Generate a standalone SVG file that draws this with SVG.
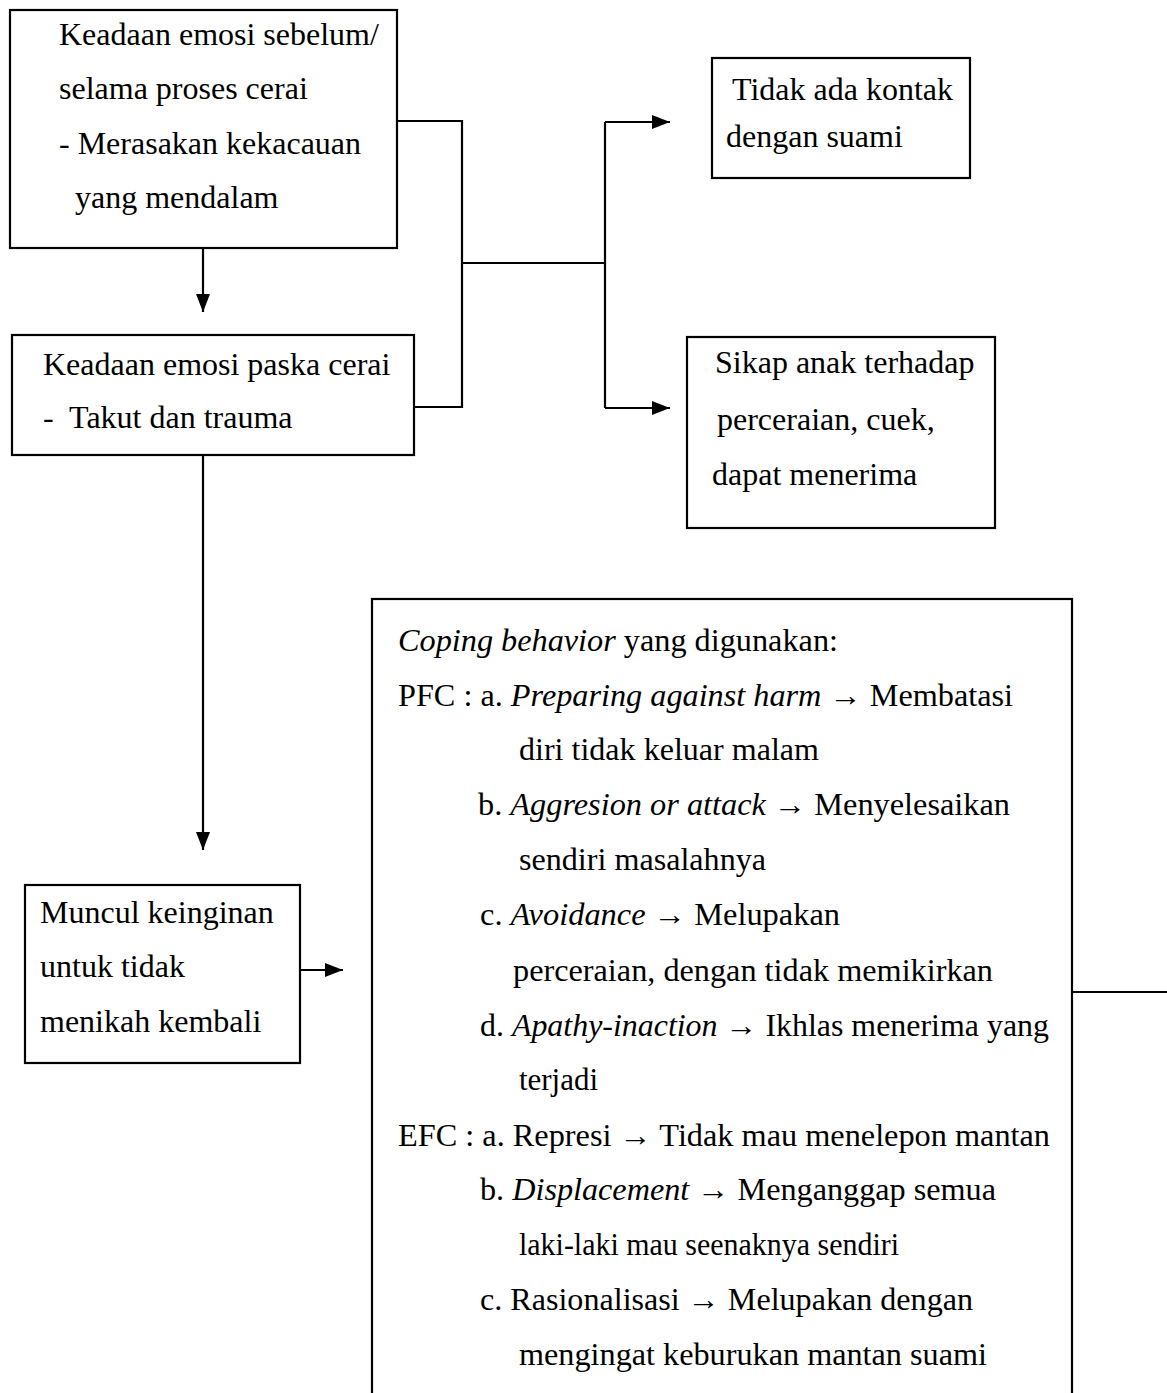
<svg xmlns="http://www.w3.org/2000/svg" width="1167" height="1393" viewBox="0 0 1167 1393">
<style>
.box{fill:#fff;stroke:#000;stroke-width:2.2}
.t{font-family:"Liberation Serif","Times New Roman",serif;font-size:32px;fill:#000}
.b{font-family:"Liberation Serif","Times New Roman",serif;font-size:31px;fill:#000}
.i{font-style:italic}
.c{fill:none;stroke:#000;stroke-width:2.2}
</style>
<defs>
<marker id="ah" viewBox="0 0 18 14" refX="18" refY="7" markerWidth="18" markerHeight="14" markerUnits="userSpaceOnUse" orient="auto">
<path d="M0 0 L18 7 L0 14 Z" fill="#000"/>
</marker>
</defs>
<rect width="1167" height="1393" fill="#fff"/>
<g id="connectors">
<path class="c" d="M397 121 H462 V407 H415"/>
<path class="c" d="M462 263 H605"/>
<path class="c" d="M605 122 V408"/>
<path class="c" d="M605 122 H670" marker-end="url(#ah)"/>
<path class="c" d="M605 408 H670" marker-end="url(#ah)"/>
<path class="c" d="M203 248 V312" marker-end="url(#ah)"/>
<path class="c" d="M203 455 V850" marker-end="url(#ah)"/>
<path class="c" d="M300 970 H343" marker-end="url(#ah)"/>
<path class="c" d="M1072 992 H1167"/>
</g>
<g id="node-sebelum">
<rect class="box" x="10" y="10" width="387" height="238"/>
<text class="t" x="59" y="45">Keadaan emosi sebelum/</text>
<text class="t" x="59" y="99">selama proses cerai</text>
<text class="t" x="59" y="154">- Merasakan kekacauan</text>
<text class="t" x="75" y="208">yang mendalam</text>
</g>
<g id="node-paska">
<rect class="box" x="12" y="335" width="402" height="120"/>
<text class="t" x="43" y="375">Keadaan emosi paska cerai</text>
<text class="t" x="43" y="428" xml:space="preserve">-  Takut dan trauma</text>
</g>
<g id="node-kontak">
<rect class="box" x="712" y="58" width="258" height="120"/>
<text class="t" x="732" y="100">Tidak ada kontak</text>
<text class="t" x="726" y="147">dengan suami</text>
</g>
<g id="node-anak">
<rect class="box" x="687" y="337" width="308" height="191"/>
<text class="t" x="715" y="373">Sikap anak terhadap</text>
<text class="t" x="717" y="430">perceraian, cuek,</text>
<text class="t" x="712" y="485">dapat menerima</text>
</g>
<g id="node-muncul">
<rect class="box" x="25" y="885" width="275" height="178"/>
<text class="t" x="40" y="923">Muncul keinginan</text>
<text class="t" x="40" y="977">untuk tidak</text>
<text class="t" x="40" y="1032">menikah kembali</text>
</g>
<g id="node-coping">
<rect class="box" x="372" y="599" width="700" height="900"/>
<text class="b" x="398" y="651" textLength="440" lengthAdjust="spacingAndGlyphs"><tspan class="i">Coping behavior</tspan> yang digunakan:</text>
<text class="b" x="398" y="706" textLength="615" lengthAdjust="spacingAndGlyphs">PFC : a. <tspan class="i">Preparing against harm</tspan> → Membatasi</text>
<text class="b" x="519" y="760" textLength="300" lengthAdjust="spacingAndGlyphs">diri tidak keluar malam</text>
<text class="b" x="478" y="815" textLength="532" lengthAdjust="spacingAndGlyphs">b. <tspan class="i">Aggresion or attack</tspan> → Menyelesaikan</text>
<text class="b" x="519" y="870" textLength="247" lengthAdjust="spacingAndGlyphs">sendiri masalahnya</text>
<text class="b" x="480" y="925" textLength="360" lengthAdjust="spacingAndGlyphs">c. <tspan class="i">Avoidance</tspan> → Melupakan</text>
<text class="b" x="513" y="981" textLength="480" lengthAdjust="spacingAndGlyphs">perceraian, dengan tidak memikirkan</text>
<text class="b" x="480" y="1036" textLength="569" lengthAdjust="spacingAndGlyphs">d. <tspan class="i">Apathy-inaction</tspan> → Ikhlas menerima yang</text>
<text class="b" x="519" y="1090" textLength="79" lengthAdjust="spacingAndGlyphs">terjadi</text>
<text class="b" x="398" y="1146" textLength="652" lengthAdjust="spacingAndGlyphs">EFC : a. Represi → Tidak mau menelepon mantan</text>
<text class="b" x="480" y="1200" textLength="516" lengthAdjust="spacingAndGlyphs">b. <tspan class="i">Displacement</tspan> → Menganggap semua</text>
<text class="b" x="519" y="1255" textLength="380" lengthAdjust="spacingAndGlyphs">laki-laki mau seenaknya sendiri</text>
<text class="b" x="480" y="1310" textLength="493" lengthAdjust="spacingAndGlyphs">c. Rasionalisasi → Melupakan dengan</text>
<text class="b" x="519" y="1365" textLength="468" lengthAdjust="spacingAndGlyphs">mengingat keburukan mantan suami</text>
</g>
</svg>
